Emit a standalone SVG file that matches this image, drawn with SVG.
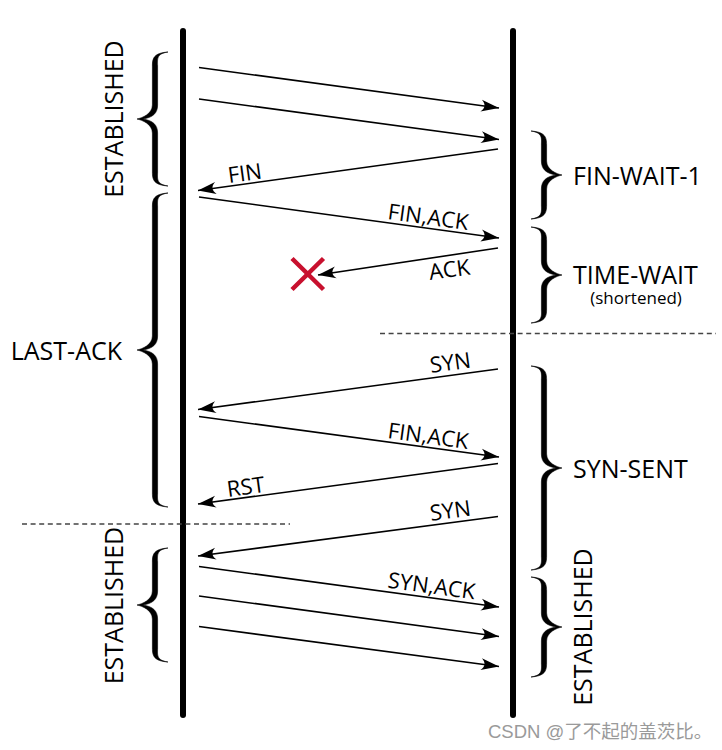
<svg xmlns="http://www.w3.org/2000/svg" width="722" height="750" viewBox="0 0 722 750">
<style>
.life{stroke:#000;stroke-width:6;stroke-linecap:round;fill:none}
.brace{fill:#000;stroke:#000;stroke-width:0.6}
.state{font-family:"Open Sans","Noto Sans","DejaVu Sans",sans-serif;font-size:25px;fill:#000}
.small{font-family:"Open Sans","Noto Sans","DejaVu Sans",sans-serif;font-size:17px;fill:#000}
.lbl{font-family:"Open Sans","Noto Sans","DejaVu Sans",sans-serif;font-size:22px;fill:#000}
.msg{stroke:#000;stroke-width:1.6;fill:none;marker-end:url(#ah)}
.dash{stroke:#444;stroke-width:1.3;stroke-dasharray:5 3.6;fill:none}
.wm{font-family:"Liberation Sans","Noto Sans CJK SC",sans-serif;font-size:18.5px;fill:#9a9a9a}
</style>
<defs>
<marker id="ah" markerUnits="userSpaceOnUse" markerWidth="20" markerHeight="14" refX="0" refY="0" orient="auto" overflow="visible">
<path d="M0,0 L-18,-6 C-13.5,-2 -13.5,2 -18,6 Z" fill="#000"/>
</marker>
</defs>

<g id="client-line"><line class="life" x1="183" y1="31" x2="183" y2="715"/></g>
<g id="server-line"><line class="life" x1="513" y1="31" x2="513" y2="715"/></g>

<g id="dividers">
<path class="dash" d="M380,333.5 H716"/>
<path class="dash" d="M22,524 H290"/>
</g>

<g id="state-established-left-top">
<path class="brace" d="M168,52 C154,53 152.4,58 152.4,66 L152.4,105 C152.4,114 142,118 137,119 C142,120 152.4,124 152.4,133 L152.4,172 C152.4,180 154,185 168,186 C156,184 157.6,179 157.6,172 L157.6,133 C157.6,125 153,120.5 143,119 C153,117.5 157.6,113 157.6,105 L157.6,66 C157.6,59 156,54 168,52 Z"/>
<text class="state" x="123" y="119" text-anchor="middle" transform="rotate(-90 123 119)">ESTABLISHED</text>
</g>

<g id="state-last-ack">
<path class="brace" d="M168,193 C154,194 152.4,199 152.4,207 L152.4,336 C152.4,345 142,349 137,350 C142,351 152.4,355 152.4,364 L152.4,493 C152.4,501 154,506 168,507 C156,505 157.6,500 157.6,493 L157.6,364 C157.6,356 153,351.5 143,350 C153,348.5 157.6,344 157.6,336 L157.6,207 C157.6,200 156,195 168,193 Z"/>
<text class="state" x="122" y="360" text-anchor="end">LAST-ACK</text>
</g>

<g id="state-established-left-bottom">
<path class="brace" d="M168,548 C154,549 152.4,554 152.4,562 L152.4,591 C152.4,600 142,604 137,605 C142,606 152.4,610 152.4,619 L152.4,648 C152.4,656 154,661 168,662 C156,660 157.6,655 157.6,648 L157.6,619 C157.6,611 153,606.5 143,605 C153,603.5 157.6,599 157.6,591 L157.6,562 C157.6,555 156,550 168,548 Z"/>
<text class="state" x="123" y="605.5" text-anchor="middle" transform="rotate(-90 123 605.5)">ESTABLISHED</text>
</g>

<g id="state-fin-wait-1">
<path class="brace" d="M531,131 C545,132 546.6,137 546.6,145 L546.6,161 C546.6,170 557,174 562,175 C557,176 546.6,180 546.6,189 L546.6,205 C546.6,213 545,218 531,219 C543,217 541.4,212 541.4,205 L541.4,189 C541.4,181 546,176.5 556,175 C546,173.5 541.4,169 541.4,161 L541.4,145 C541.4,138 543,133 531,131 Z"/>
<text class="state" x="573" y="185">FIN-WAIT-1</text>
</g>

<g id="state-time-wait">
<path class="brace" d="M531,227 C545,228 546.6,233 546.6,241 L546.6,261 C546.6,270 557,274 562,275 C557,276 546.6,280 546.6,289 L546.6,309 C546.6,317 545,322 531,323 C543,321 541.4,316 541.4,309 L541.4,289 C541.4,281 546,276.5 556,275 C546,273.5 541.4,269 541.4,261 L541.4,241 C541.4,234 543,229 531,227 Z"/>
<text class="state" x="573" y="284">TIME-WAIT</text>
<text class="small" x="636" y="304" text-anchor="middle">(shortened)</text>
</g>

<g id="state-syn-sent">
<path class="brace" d="M531,366 C545,367 546.6,372 546.6,380 L546.6,454 C546.6,463 557,467 562,468 C557,469 546.6,473 546.6,482 L546.6,556 C546.6,564 545,569 531,570 C543,568 541.4,563 541.4,556 L541.4,482 C541.4,474 546,469.5 556,468 C546,466.5 541.4,462 541.4,454 L541.4,380 C541.4,373 543,368 531,366 Z"/>
<text class="state" x="573" y="478">SYN-SENT</text>
</g>

<g id="state-established-right">
<path class="brace" d="M531,577 C545,578 546.6,583 546.6,591 L546.6,613 C546.6,622 557,626 562,627 C557,628 546.6,632 546.6,641 L546.6,663 C546.6,671 545,676 531,677 C543,675 541.4,670 541.4,663 L541.4,641 C541.4,633 546,628.5 556,627 C546,625.5 541.4,621 541.4,613 L541.4,591 C541.4,584 543,579 531,577 Z"/>
<text class="state" x="591.5" y="627" text-anchor="middle" transform="rotate(-90 591.5 627)">ESTABLISHED</text>
</g>

<g id="lost-marker">
<path d="M292,258.5 L323.5,289.5 M323.5,258.5 L292,289.5" stroke="#c8102e" stroke-width="4.5" fill="none"/>
</g>

<g id="connectors">
<line class="msg" x1="199" y1="67.5" x2="499" y2="108"/>
<line class="msg" x1="199" y1="99" x2="499" y2="139.5"/>
<line class="msg" x1="498" y1="149" x2="198" y2="190.5"/>
<text class="lbl" x="229" y="183" transform="rotate(-7.8 229 183)">FIN</text>
<line class="msg" x1="199" y1="197" x2="499" y2="238"/>
<text class="lbl" x="387" y="219" transform="rotate(7.8 387 219)">FIN,ACK</text>
<line class="msg" x1="498" y1="248" x2="318" y2="275"/>
<text class="lbl" x="430" y="280" transform="rotate(-7.8 430 280)">ACK</text>
<line class="msg" x1="498" y1="369" x2="198" y2="409.5"/>
<text class="lbl" x="431" y="373" transform="rotate(-7.8 431 373)">SYN</text>
<line class="msg" x1="199" y1="416.5" x2="499" y2="457"/>
<text class="lbl" x="387" y="438" transform="rotate(7.8 387 438)">FIN,ACK</text>
<line class="msg" x1="498" y1="463.5" x2="198" y2="504"/>
<text class="lbl" x="228" y="497" transform="rotate(-7.8 228 497)">RST</text>
<line class="msg" x1="498" y1="516.5" x2="198" y2="556"/>
<text class="lbl" x="431" y="521" transform="rotate(-7.8 431 521)">SYN</text>
<line class="msg" x1="199" y1="566.5" x2="499" y2="607"/>
<text class="lbl" x="387" y="587.5" transform="rotate(7.8 387 587.5)">SYN,ACK</text>
<line class="msg" x1="199" y1="596" x2="499" y2="636.5"/>
<line class="msg" x1="199" y1="626.5" x2="499" y2="666.5"/>
</g>

<text class="wm" x="488" y="738">CSDN @了不起的盖茨比。</text>
</svg>
